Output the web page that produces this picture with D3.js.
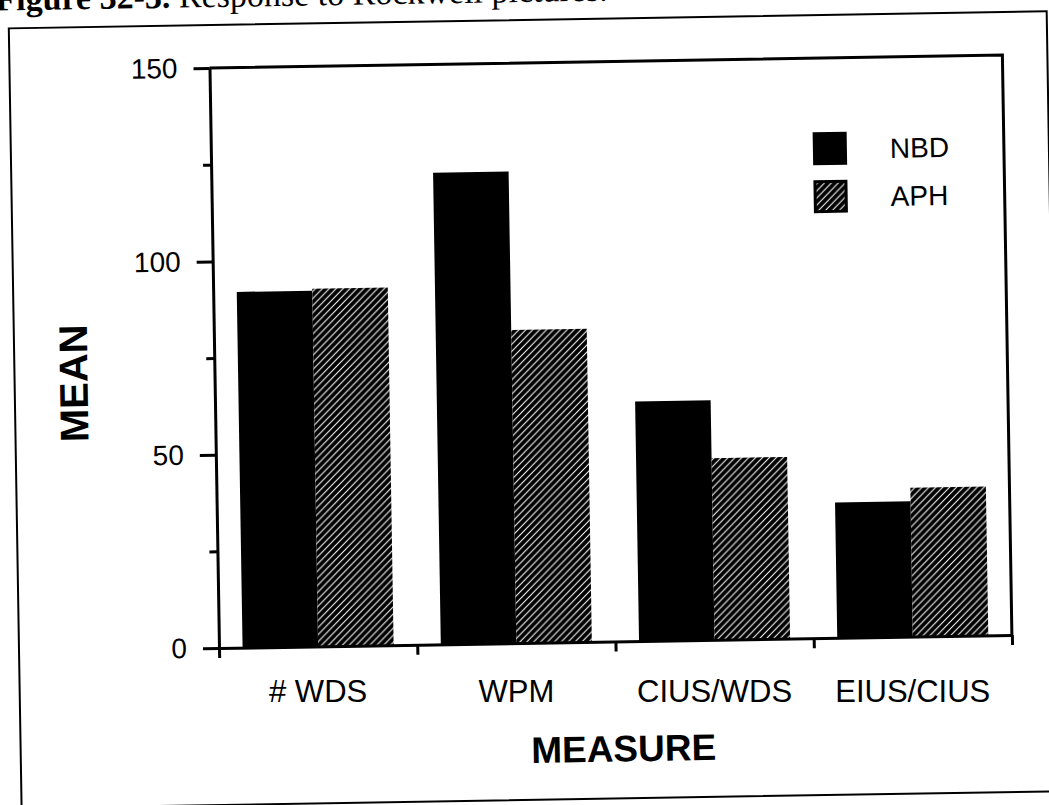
<!DOCTYPE html>
<html>
<head>
<meta charset="utf-8">
<script src="https://cdn.jsdelivr.net/npm/d3@7/dist/d3.min.js"></script>
<style>
  html, body { margin: 0; padding: 0; background: #fff; }
  svg { display: block; }
</style>
</head>
<body>
<svg id="chart" width="1049" height="805"></svg>
<script>
// ---- data ----
const categories = ["# WDS", "WPM", "CIUS/WDS", "EIUS/CIUS"];
const seriesNames = ["NBD", "APH"];
const nbdValues = [92, 122, 62, 35];
const aphValues = [92.5, 81, 47, 38.5];
const yMajorTicks = [0, 50, 100, 150];
const yMinorTicks = [25, 75, 125];
const titleBold = "Figure 32-3.";
const titleRest = " Response to Rockwell pictures.";
const xTitle = "MEASURE";
const yTitle = "MEAN";

// ---- layout ----
const W = 1049, H = 805;
const plot = { left: 219, top: 68, right: 1012, bottom: 648 };
const pw = plot.right - plot.left, ph = plot.bottom - plot.top;
const tilt = 0.94;                       // scan rotation, degrees
const s = Math.sin(tilt * Math.PI / 180);

const svg = d3.select("#chart");
const defs = svg.append("defs");
const pat = defs.append("pattern")
  .attr("id", "hatch").attr("patternUnits", "userSpaceOnUse")
  .attr("width", 7).attr("height", 7);
pat.append("rect").attr("width", 7).attr("height", 7).attr("fill", "#000");
pat.append("path").attr("d", "M-1,8 L8,-1 M-4,4 L4,-4 M3,11 L11,3")
  .attr("stroke", "#fff").attr("stroke-width", 1.05);

svg.append("rect").attr("width", W).attr("height", H).attr("fill", "#fff");

const root = svg.append("g").attr("transform", `rotate(${-tilt}, ${plot.left}, ${plot.bottom})`);

// title (partly cut off at the top, as in the scan)
const title = root.append("text")
  .attr("x", 6).attr("y", 7)
  .attr("font-family", "'Liberation Serif', 'DejaVu Serif', serif")
  .attr("font-size", 34).attr("fill", "#000");
title.append("tspan").attr("font-weight", "bold").text(titleBold);
title.append("tspan").text(titleRest);

// outer frame
root.append("rect")
  .attr("x", 19).attr("y", 25).attr("width", 1038).attr("height", 780)
  .attr("fill", "none").attr("stroke", "#000").attr("stroke-width", 2);

const g = root.append("g").attr("transform", `translate(${plot.left},${plot.top})`);

const y = d3.scaleLinear().domain([0, 150]).range([ph, 0]);
const xBand = d3.scaleBand().domain(categories).range([0, pw])
  .paddingInner(0.238).paddingOuter(0.119).align(0.5);
const xSub = d3.scaleBand().domain(seriesNames).range([0, xBand.bandwidth()]);
const xLabel = d3.scaleBand().domain(categories).range([0, pw]).padding(0);
const xEdge = d3.scaleLinear().domain([0, categories.length]).range([0, pw]);

// bars
const rows = categories.map((c, i) => ({ c, vals: [
  { s: "NBD", v: nbdValues[i] }, { s: "APH", v: aphValues[i] } ] }));
const grp = g.selectAll("g.cat").data(rows).join("g")
  .attr("class", "cat").attr("transform", d => `translate(${xBand(d.c)},0)`);
grp.selectAll("rect").data(d => d.vals).join("rect")
  .attr("x", d => xSub(d.s))
  .attr("width", xSub.bandwidth())
  .attr("y", d => y(d.v))
  .attr("height", d => y(0) - y(d.v))
  .attr("fill", d => d.s === "NBD" ? "#000" : "url(#hatch)");

// top and right border of the plot
g.append("path")
  .attr("d", `M0,0 H${pw} V${ph}`)
  .attr("fill", "none").attr("stroke", "#000").attr("stroke-width", 3);

// y axis
const yAxis = g.append("g").call(d3.axisLeft(y).tickValues(yMajorTicks)
  .tickSize(16).tickPadding(16).tickSizeOuter(0).tickFormat(d3.format("d")));
const yMinor = g.append("g").call(d3.axisLeft(y).tickValues(yMinorTicks)
  .tickSize(8).tickSizeOuter(0).tickFormat(""));
yMinor.select(".domain").remove();

// x axis: ticks at category boundaries
const xAxis = g.append("g").attr("transform", `translate(0,${ph})`)
  .call(d3.axisBottom(xEdge).tickValues(d3.range(categories.length + 1))
    .tickSize(10).tickSizeOuter(0).tickFormat(""));
const xLab = g.append("g").attr("transform", `translate(0,${ph})`)
  .call(d3.axisBottom(xLabel).tickSize(0).tickPadding(34));
xLab.select(".domain").remove();
// category labels sit level in the scan: undo the tilt for each
xLab.selectAll(".tick text")
  .attr("transform", d => {
    const cx = xLabel(d) + xLabel.bandwidth() / 2;
    return `rotate(${tilt}) translate(0,${0})`;
  });

[yAxis, yMinor, xAxis].forEach(a => {
  a.selectAll(".domain, line").attr("stroke", "#000").attr("stroke-width", 3);
});
yAxis.selectAll("text")
  .attr("font-family", "'Liberation Sans', Arial, sans-serif")
  .attr("font-size", 28).attr("fill", "#000");
xLab.selectAll("text")
  .attr("font-family", "'Liberation Sans', Arial, sans-serif")
  .attr("font-size", 31).attr("fill", "#000");
xLab.selectAll(".tick").each(function(d) {
  const cx = xLabel(d) + xLabel.bandwidth() / 2;
  d3.select(this).select("text").attr("y", 34 + s * (cx - xLabel.bandwidth() / 2));
});

// axis titles
root.append("text")
  .attr("x", 622).attr("y", 768).attr("text-anchor", "middle")
  .attr("font-family", "'Liberation Sans', Arial, sans-serif")
  .attr("font-weight", "bold").attr("font-size", 37).attr("fill", "#000")
  .text(xTitle);
root.append("text")
  .attr("transform", "translate(92,381) rotate(-90)").attr("text-anchor", "middle")
  .attr("font-family", "'Liberation Sans', Arial, sans-serif")
  .attr("font-weight", "bold").attr("font-size", 40).attr("fill", "#000")
  .text(yTitle);

// legend
const legend = root.append("g").attr("transform", "translate(821,142)");
const li = legend.selectAll("g").data(seriesNames).join("g")
  .attr("transform", (d, i) => `translate(0,${i * 48})`);
li.append("rect").attr("x", 1.5).attr("y", 1.5).attr("width", 31).attr("height", 30)
  .attr("fill", d => d === "NBD" ? "#000" : "url(#hatch)")
  .attr("stroke", "#000").attr("stroke-width", 3);
li.append("text").attr("x", 77).attr("y", 27)
  .attr("font-family", "'Liberation Sans', Arial, sans-serif")
  .attr("font-size", 28).attr("fill", "#000")
  .text(d => d);
</script>
</body>
</html>
